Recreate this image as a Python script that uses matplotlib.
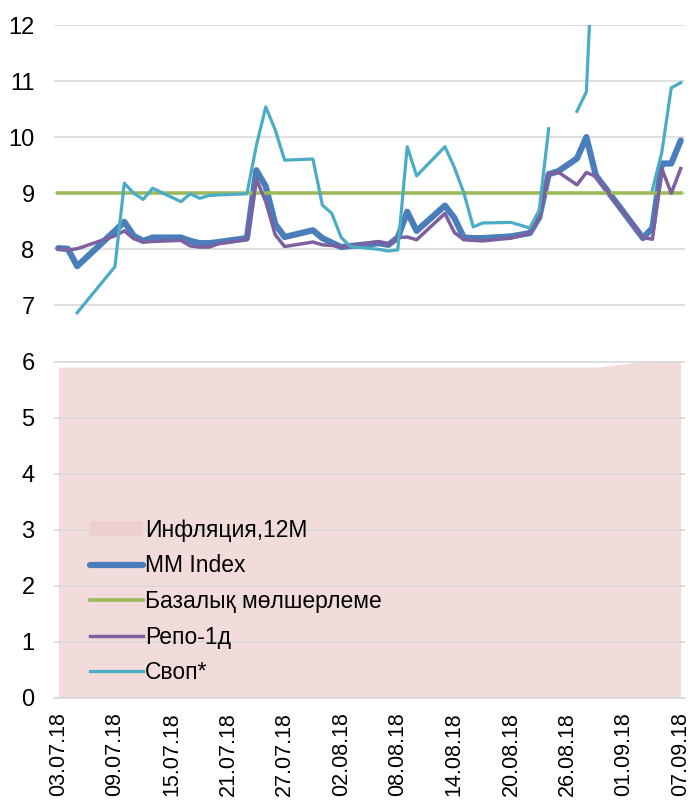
import numpy as np
import pandas as pd
import matplotlib
matplotlib.use("Agg")
import matplotlib.pyplot as plt
import matplotlib.dates as mdates
from matplotlib.patches import Patch

plt.rcParams['font.family'] = ['Liberation Sans Narrow', 'Liberation Sans', 'DejaVu Sans']

# даты торговых дней (06.07, 30.08, 31.08 - выходные, 25.08 - рабочая суббота)
dates = pd.to_datetime([
    "03.07.2018", "04.07.2018", "05.07.2018", "09.07.2018", "10.07.2018", "11.07.2018",
    "12.07.2018", "13.07.2018", "16.07.2018", "17.07.2018", "18.07.2018", "19.07.2018",
    "20.07.2018", "23.07.2018", "24.07.2018", "25.07.2018", "26.07.2018", "27.07.2018",
    "30.07.2018", "31.07.2018", "01.08.2018", "02.08.2018", "03.08.2018", "06.08.2018",
    "07.08.2018", "08.08.2018", "09.08.2018", "10.08.2018", "13.08.2018", "14.08.2018",
    "15.08.2018", "16.08.2018", "17.08.2018", "20.08.2018", "22.08.2018", "23.08.2018",
    "24.08.2018", "25.08.2018", "27.08.2018", "28.08.2018", "29.08.2018", "03.09.2018",
    "04.09.2018", "05.09.2018", "06.09.2018", "07.09.2018"], format="%d.%m.%Y")

inflation = [5.9] * 41 + [6.0] * 5
base_rate = [9.0] * 46

mm_index = [8.02, 8.01, 7.70, 8.33, 8.49, 8.24, 8.15, 8.21, 8.21, 8.15, 8.11, 8.11,
            8.13, 8.20, 9.41, 9.12, 8.45, 8.22, 8.34, 8.20, 8.12, 8.04, 8.06, 8.11,
            8.08, 8.21, 8.67, 8.33, 8.78, 8.56, 8.21, 8.20, 8.20, 8.23, 8.29, 8.57,
            9.34, 9.39, 9.62, 10.0, 9.32, 8.20, 8.38, 9.53, 9.53, 9.94]

repo_1d = [8.01, 7.99, 8.01, 8.24, 8.33, 8.19, 8.13, 8.14, 8.16, 8.06, 8.04, 8.04,
           8.10, 8.17, 9.25, 8.85, 8.26, 8.05, 8.13, 8.08, 8.07, 8.04, 8.06, 8.14,
           8.08, 8.21, 8.22, 8.17, 8.64, 8.30, 8.17, 8.16, 8.15, 8.20, 8.29, 8.58,
           9.34, 9.38, 9.15, 9.37, 9.30, 8.21, 8.18, 9.44, 9.00, 9.44]

swap = [np.nan, np.nan, 6.87, 7.69, 9.18, 9.00, 8.89, 9.09, 8.85, 8.99, 8.91, 8.96,
        8.97, 8.99, 9.85, 10.54, 10.13, 9.59, 9.61, 8.79, 8.64, 8.21, 8.05, 8.00,
        7.97, 7.99, 9.83, 9.31, 9.83, 9.46, 9.01, 8.40, 8.47, 8.48, 8.38, 8.70,
        10.15, np.nan, 10.46, 10.81, 14.5, np.nan, 9.06, 9.73, 10.88, 10.97]

labels = ['Инфляция,12M', 'MM Index', 'Базалық мөлшерлеме', 'Репо-1д', 'Своп*']

fig = plt.figure(figsize=(6.92, 8.0), dpi=100)
ax = fig.add_axes([54 / 692, 102 / 800, 631 / 692, 673 / 800])

ax.fill_between(dates, 0, inflation, color='#f2dcdb', lw=0, zorder=1)
l1, = ax.plot(dates, mm_index, color='#4a7ebb', lw=4.5, solid_capstyle='round', zorder=3)
l2, = ax.plot(dates, base_rate, color='#9bbb59', lw=2.6, zorder=4)
l3, = ax.plot(dates, repo_1d, color='#7d60a0', lw=2.5, zorder=5)
l4, = ax.plot(dates, swap, color='#4bacc6', lw=2.3, zorder=6)

ax.set_ylim(0, 12)
ax.set_yticks(range(0, 13))
ax.set_xlim(dates[0] - pd.Timedelta(hours=11), dates[-1] + pd.Timedelta(hours=11))
ax.set_xticks(pd.date_range("2018-07-03", "2018-09-07", freq="6D"))
ax.xaxis.set_major_formatter(mdates.DateFormatter("%d.%m.%y"))

ax.grid(axis='y', color='#d9d9d9', lw=1.2, zorder=2)
for s in ['top', 'right', 'left']:
    ax.spines[s].set_visible(False)
ax.spines['bottom'].set_color('#d9d9d9')
ax.spines['bottom'].set_linewidth(1.2)
ax.tick_params(axis='both', length=0)
ax.tick_params(axis='y', labelsize=17, pad=14)
ax.tick_params(axis='x', pad=10)
for t in ax.get_xticklabels():
    t.set_rotation(90)
    t.set_fontsize(15.5)
    t.set_family(['Liberation Sans', 'DejaVu Sans'])

infl_patch = Patch(facecolor='#eccfcf', edgecolor='none')
leg = ax.legend([infl_patch, l1, l2, l3, l4], labels,
                loc='lower left', bbox_to_anchor=(0.035, 0.0), frameon=False,
                fontsize=16.5, handlelength=2.3, handleheight=0.65, handletextpad=0.1,
                labelspacing=0.55, borderaxespad=0.2)

fig.savefig("out.png", dpi=100)
